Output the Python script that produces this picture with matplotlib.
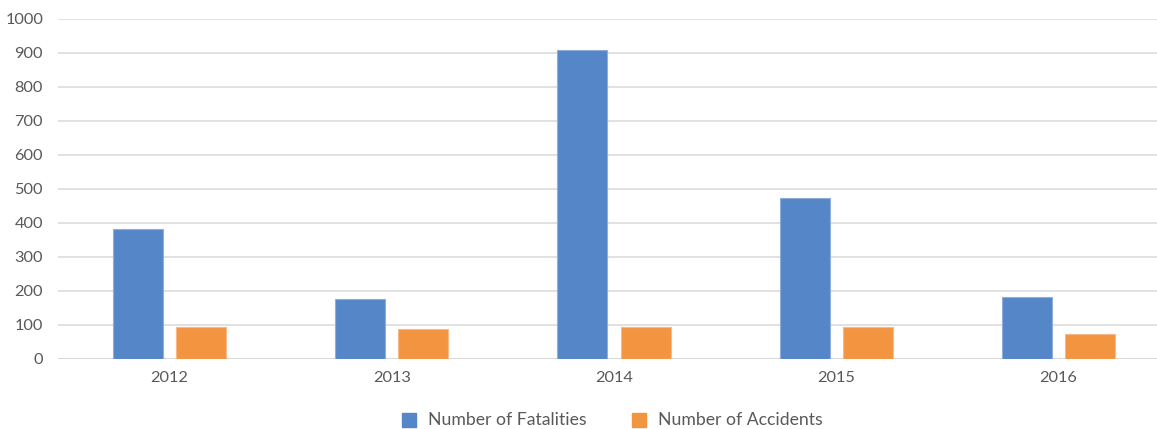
import matplotlib
matplotlib.use("Agg")
import matplotlib.pyplot as plt
import numpy as np
from matplotlib.patches import Rectangle

years = ["2012", "2013", "2014", "2015", "2016"]
fatalities = [381, 174, 909, 472, 182]
accidents = [93, 86, 94, 94, 71]

blue = "#5586C8"
orange = "#F39441"
text_color = "#595959"
grid_color = "#D9D9D9"

plt.rcParams["font.family"] = ["Lato", "DejaVu Sans"]

W, H = 1157, 429
fig = plt.figure(figsize=(W / 100, H / 100), dpi=100)
ax = fig.add_axes([58.4 / W, (H - 358.5) / H, 1111.2 / W, 339.5 / H])

x = np.arange(len(years))
bw = 0.225
off = 0.142
ax.bar(x - off, fatalities, bw, color=blue, edgecolor="#8EAEDC", linewidth=0.8, zorder=3)
ax.bar(x + off, accidents, bw, color=orange, edgecolor="#F7B98A", linewidth=0.8, zorder=3)

ax.set_xlim(-0.5, len(years) - 0.5)
ax.set_ylim(0, 1000)
ax.set_yticks(np.arange(0, 1001, 100))
ax.yaxis.grid(True, color=grid_color, linewidth=1.1, zorder=0)
ax.set_axisbelow(True)
ax.axhline(0, color="#D9D9D9", linewidth=2.2, zorder=2)

for s in ax.spines.values():
    s.set_visible(False)
ax.tick_params(axis="both", length=0, labelsize=11.8, colors=text_color)
ax.tick_params(axis="y", pad=11)
ax.tick_params(axis="x", pad=9)
ax.set_xticks(x)
ax.set_xticklabels(years)

# legend
def legend_item(px, color, label):
    fig.patches.append(Rectangle((px / W, (H - 427) / H), 14 / W, 14 / H,
                                 transform=fig.transFigure, color=color))
    fig.text((px + 26) / W, (H - 420) / H, label, color=text_color,
             fontsize=12.7, va="center", ha="left")

legend_item(402, blue, "Number of Fatalities")
legend_item(632, orange, "Number of Accidents")

fig.savefig("out.png", dpi=100)
